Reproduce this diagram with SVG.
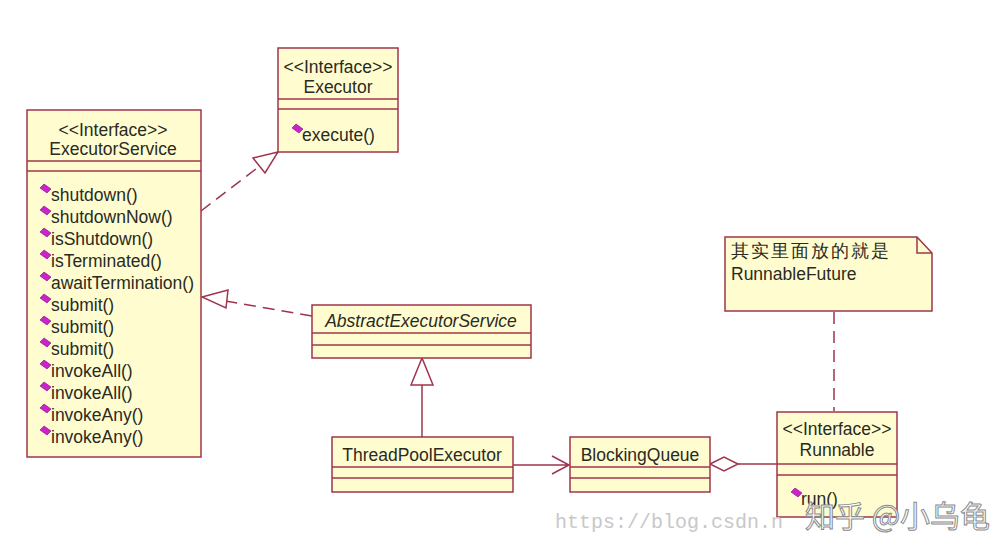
<svg xmlns="http://www.w3.org/2000/svg" width="1006" height="555" viewBox="0 0 1006 555">
<style>
.box{fill:#fffdd0;stroke:#a0344c;stroke-width:1.5}
.sep{stroke:#a0344c;stroke-width:1.5}
.t{font-family:"Liberation Sans",Arial,sans-serif;font-size:17.5px;fill:#2a2a22}
.c{text-anchor:middle}
.ic{fill:#cc22cc;stroke:#7a0a7a;stroke-width:0.6}
.dash{fill:none;stroke:#a0344c;stroke-width:1.5;stroke-dasharray:12 7}
.sol{fill:none;stroke:#a0344c;stroke-width:1.5}
.tri{fill:#ffffff;stroke:#a0344c;stroke-width:1.5}
.wm{font-family:"Liberation Mono",monospace;font-size:20px;fill:#c8c8c8}
.wz{font-family:"Noto Sans CJK SC",sans-serif;font-size:30px;fill:#ffffff;stroke:#8a8a8a;stroke-width:1}
</style>
<defs>
<polygon id="icon" class="ic" points="-1,-6 6,-1 2,3 -5,-2"/>
</defs>
<rect width="1006" height="555" fill="#ffffff"/>

<g id="connectors">
<path class="dash" d="M201,211 L278,152"/>
<polygon class="tri" points="278,152 253,158 265,173"/>
<path class="dash" d="M312,316 L202,297"/>
<polygon class="tri" points="202,297 228,290 226,308"/>
<path class="sol" d="M422,437 L422,385"/>
<polygon class="tri" points="422,358 411,385 433,385"/>
<path class="sol" d="M513,465 L569,465 M552,456 L569,465 L552,474"/>
<path class="sol" d="M777,464 L738,464"/>
<polygon class="tri" points="710,464 724,457 738,464 724,471"/>
<path class="dash" d="M834,312 L834,411"/>
</g>

<g id="executor">
<rect class="box" x="278" y="48" width="120" height="104"/>
<line class="sep" x1="278" y1="99" x2="398" y2="99"/>
<line class="sep" x1="278" y1="109" x2="398" y2="109"/>
<text class="t c" x="338" y="73">&lt;&lt;Interface&gt;&gt;</text>
<text class="t c" x="338" y="93">Executor</text>
<use href="#icon" x="297" y="130"/>
<text class="t" x="302" y="141">execute()</text>
</g>

<g id="executorService">
<rect class="box" x="27" y="110" width="174" height="347"/>
<line class="sep" x1="27" y1="161" x2="201" y2="161"/>
<line class="sep" x1="27" y1="171" x2="201" y2="171"/>
<text class="t c" x="113" y="136">&lt;&lt;Interface&gt;&gt;</text>
<text class="t c" x="113" y="155">ExecutorService</text>
<use href="#icon" x="45" y="190"/><text class="t" x="51" y="201">shutdown()</text>
<use href="#icon" x="45" y="212"/><text class="t" x="51" y="223">shutdownNow()</text>
<use href="#icon" x="45" y="234"/><text class="t" x="51" y="245">isShutdown()</text>
<use href="#icon" x="45" y="256"/><text class="t" x="51" y="267">isTerminated()</text>
<use href="#icon" x="45" y="278"/><text class="t" x="51" y="289">awaitTermination()</text>
<use href="#icon" x="45" y="300"/><text class="t" x="51" y="311">submit()</text>
<use href="#icon" x="45" y="322"/><text class="t" x="51" y="333">submit()</text>
<use href="#icon" x="45" y="344"/><text class="t" x="51" y="355">submit()</text>
<use href="#icon" x="45" y="366"/><text class="t" x="51" y="377">invokeAll()</text>
<use href="#icon" x="45" y="388"/><text class="t" x="51" y="399">invokeAll()</text>
<use href="#icon" x="45" y="410"/><text class="t" x="51" y="421">invokeAny()</text>
<use href="#icon" x="45" y="432"/><text class="t" x="51" y="443">invokeAny()</text>
</g>

<g id="abstractExecutorService">
<rect class="box" x="312" y="305" width="219" height="53"/>
<line class="sep" x1="312" y1="333" x2="531" y2="333"/>
<line class="sep" x1="312" y1="345" x2="531" y2="345"/>
<text class="t c" x="421" y="327" font-style="italic">AbstractExecutorService</text>
</g>

<g id="threadPoolExecutor">
<rect class="box" x="332" y="437" width="181" height="55"/>
<line class="sep" x1="332" y1="467" x2="513" y2="467"/>
<line class="sep" x1="332" y1="478" x2="513" y2="478"/>
<text class="t c" x="422" y="461">ThreadPoolExecutor</text>
</g>

<g id="blockingQueue">
<rect class="box" x="570" y="437" width="140" height="55"/>
<line class="sep" x1="570" y1="467" x2="710" y2="467"/>
<line class="sep" x1="570" y1="478" x2="710" y2="478"/>
<text class="t c" x="640" y="461">BlockingQueue</text>
</g>

<g id="runnable">
<rect class="box" x="777" y="412" width="120" height="105"/>
<line class="sep" x1="777" y1="464" x2="897" y2="464"/>
<line class="sep" x1="777" y1="475" x2="897" y2="475"/>
<text class="t c" x="837" y="435">&lt;&lt;Interface&gt;&gt;</text>
<text class="t c" x="837" y="456">Runnable</text>
<use href="#icon" x="796" y="494"/>
<text class="t" x="801" y="505">run()</text>
</g>

<g id="note">
<path class="box" d="M725,237 L917,237 L932,253 L932,311 L725,311 Z"/>
<path class="sol" d="M917,237 L917,253 L932,253"/>
<text class="t" x="731" y="257" font-family="'Liberation Sans','Noto Sans CJK SC',sans-serif" font-size="16" letter-spacing="2">其实里面放的就是</text>
<text class="t" x="731" y="280">RunnableFuture</text>
</g>

<g id="watermark">
<text class="wm" x="555" y="528">https://blog.csdn.n</text>
<text class="wz" x="805" y="527">知乎 @小乌龟</text>
</g>
</svg>
